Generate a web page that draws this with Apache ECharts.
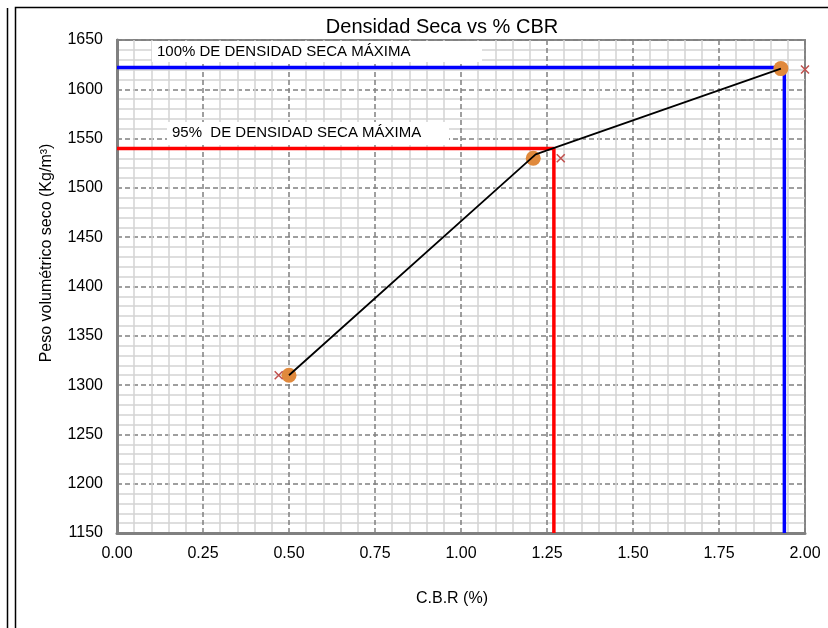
<!DOCTYPE html>
<html>
<head>
<meta charset="utf-8">
<script src="https://cdn.jsdelivr.net/npm/echarts@6/dist/echarts.min.js"></script>
<style>
  html, body { margin: 0; padding: 0; background: #fff; }
  #chart { width: 828px; height: 628px; }
</style>
</head>
<body>
<div id="chart"></div>
<script>
// puntos de ensayo (CBR %, densidad seca)
const cbrPoints = [[0.50, 1310], [1.21, 1530], [1.93, 1621]];
// marcas "x" de la segunda serie
const crossPoints = [[0.47, 1310], [1.29, 1530], [2.00, 1620]];
// curva negra
const curvePoints = [[0.50, 1310], [1.217, 1534], [1.93, 1621]];
// 95% y 100% de densidad seca maxima
const line95 = [[0, 1540], [1.27, 1540], [1.27, 1150]];
const line100 = [[0, 1622], [1.94, 1622], [1.94, 1150]];

const xRange = [0, 2];
const yRange = [1150, 1650];

const font = "Liberation Sans, Arial, sans-serif";
const chart = echarts.init(document.getElementById("chart"));

const option = {
    animation: false,
    backgroundColor: "#fff",
    title: {
        text: "Densidad Seca vs % CBR",
        left: 437,
        top: 12,
        textAlign: "center",
        textStyle: { fontFamily: font, fontSize: 20, fontWeight: "normal", color: "#000" },
    },
    grid: {
        left: 117,
        right: 23,
        top: 40,
        bottom: 95,
        show: true,
        borderColor: "#888",
        borderWidth: 2,
        backgroundColor: "transparent",
    },
    xAxis: {
        type: "value",
        min: xRange[0],
        max: xRange[1],
        interval: 0.25,
        name: "C.B.R (%)",
        nameLocation: "middle",
        nameGap: 58,
        nameTextStyle: { fontFamily: font, fontSize: 16, color: "#000", padding: [0, 18, 0, 0] },
        axisLine: { show: true, onZero: false, lineStyle: { color: "#808080", width: 3 } },
        axisTick: { show: false },
        axisLabel: {
            margin: 13,
            fontFamily: font,
            fontSize: 16,
            color: "#000",
            formatter: (v) => v.toFixed(2),
        },
        splitLine: { show: true, lineStyle: { color: "#808080", width: 1.5, type: [5, 3] } },
        minorTick: { show: false, splitNumber: 5 },
        minorSplitLine: { show: true, lineStyle: { color: "#d4d4d4", width: 1.5 } },
    },
    yAxis: {
        type: "value",
        min: yRange[0],
        max: yRange[1],
        interval: 50,
        axisLine: { show: true, onZero: false, lineStyle: { color: "#808080", width: 3 } },
        axisTick: { show: false },
        axisLabel: {
            margin: 14,
            fontFamily: font,
            fontSize: 16,
            color: "#000",
            formatter: (v) => String(v),
        },
        splitLine: { show: true, lineStyle: { color: "#808080", width: 1.5, type: [5, 3] } },
        minorTick: { show: false, splitNumber: 5 },
        minorSplitLine: { show: true, lineStyle: { color: "#d4d4d4", width: 1.5 } },
    },
    series: [
        {
            type: "line",
            data: line95,
            showSymbol: false,
            lineStyle: { color: "#ff0000", width: 3.5 },
            z: 2,
        },
        {
            type: "line",
            data: line100,
            showSymbol: false,
            lineStyle: { color: "#0000ff", width: 3.5 },
            z: 2,
        },
        {
            type: "scatter",
            data: cbrPoints,
            symbolSize: 15,
            itemStyle: { color: "#e0893c", opacity: 1 },
            z: 3,
        },
        {
            type: "line",
            data: curvePoints,
            showSymbol: false,
            lineStyle: { color: "#000", width: 1.8 },
            z: 4,
        },
        {
            type: "scatter",
            data: crossPoints,
            symbol: "path://M0,0L10,10M10,0L0,10",
            symbolSize: 8,
            clip: false,
            itemStyle: { color: "none", borderColor: "#c0504d", borderWidth: 1.5, opacity: 1 },
            z: 4,
        },
    ],
    graphic: [
        // marco exterior
        { type: "line", shape: { x1: 7.5, y1: 8, x2: 7.5, y2: 628 }, style: { stroke: "#000", lineWidth: 1.5 } },
        { type: "rect", shape: { x: 15.5, y: 7.5, width: 830, height: 640 }, style: { fill: "none", stroke: "#000", lineWidth: 1.5 } },
        // etiquetas
        { type: "rect", shape: { x: 152, y: 41, width: 330, height: 21 }, style: { fill: "#fff" }, z: 10 },
        {
            type: "text", x: 157, y: 52, z: 11,
            style: { text: "100% DE DENSIDAD SECA MÁXIMA", font: "15px " + font, fill: "#000", verticalAlign: "middle" },
        },
        { type: "rect", shape: { x: 167, y: 122, width: 282, height: 23 }, style: { fill: "#fff" }, z: 10 },
        {
            type: "text", x: 172, y: 133, z: 11,
            style: { text: "95%  DE DENSIDAD SECA MÁXIMA", font: "15px " + font, fill: "#000", verticalAlign: "middle" },
        },
        {
            type: "text", x: 47, y: 253, rotation: Math.PI / 2, z: 11,
            style: { text: "Peso volumétrico seco (Kg/m³)", font: "16px " + font, fill: "#000", align: "center", verticalAlign: "middle" },
        },
    ],
};

chart.setOption(option);
</script>
</body>
</html>
